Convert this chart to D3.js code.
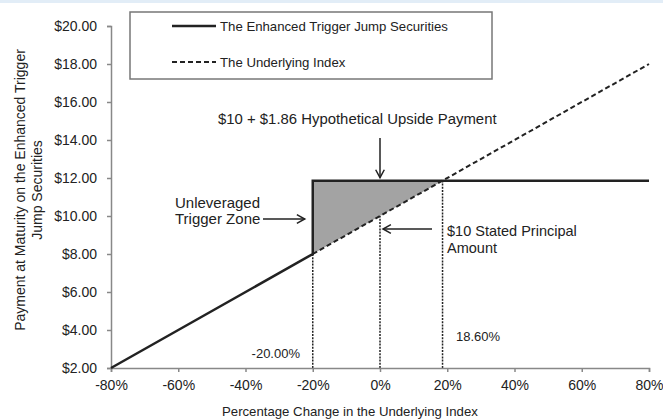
<!DOCTYPE html>
<html>
<head>
<meta charset="utf-8">
<script src="https://cdn.jsdelivr.net/npm/d3@7"></script>
<style>
  body { margin: 0; background: #fff; }
  svg { display: block; font-family: "Liberation Sans", Arial, sans-serif; }
  .axis path, .axis line { stroke: #888; stroke-width: 1.5; }
  .axis text { fill: #222; font-size: 14px; }
</style>
</head>
<body>
<svg id="chart" width="663" height="419"></svg>
<script>
// values
var xTicks = [-80, -60, -40, -20, 0, 20, 40, 60, 80];
var yTicks = [2, 4, 6, 8, 10, 12, 14, 16, 18, 20];
var securityPts = [[-80, 2], [-20, 8], [-20, 11.86], [80, 11.86]];
var underlyingPts = [[-20, 8], [80, 18]];
var shadePts = [[-20, 8], [-20, 11.86], [18.6, 11.86]];
var guideLines = [{x: -20, y: 8}, {x: 0, y: 10}, {x: 18.6, y: 11.86}];
var legendItems = ["The Enhanced Trigger Jump Securities", "The Underlying Index"];

var svg = d3.select("#chart");
var margin = {top: 26, right: 14, bottom: 51, left: 111},
    width = 663 - margin.left - margin.right,
    height = 419 - margin.top - margin.bottom;

svg.append("rect").attr("x", 0).attr("y", 0).attr("width", 663).attr("height", 3).attr("fill", "#e2edf7");

var g = svg.append("g").attr("transform", "translate(" + margin.left + "," + margin.top + ")");

var x = d3.scaleLinear().domain([-80, 80]).range([0, width]);
var y = d3.scaleLinear().domain([2, 20]).range([height, 0]);

var line = d3.line()
    .x(function(d) { return x(d[0]); })
    .y(function(d) { return y(d[1]); });

// shaded upside area
g.append("path")
    .datum(shadePts)
    .attr("d", line.curve(d3.curveLinearClosed))
    .attr("fill", "#a3a3a3");
line.curve(d3.curveLinear);

// dotted guide lines
g.selectAll(".guide")
    .data(guideLines)
  .enter().append("line")
    .attr("class", "guide")
    .attr("x1", function(d) { return x(d.x); })
    .attr("x2", function(d) { return x(d.x); })
    .attr("y1", height)
    .attr("y2", function(d) { return y(d.y); })
    .attr("stroke", "#222")
    .attr("stroke-width", 1.5)
    .attr("stroke-dasharray", "2,1.2");

// axes
g.append("g")
    .attr("class", "axis")
    .attr("transform", "translate(0," + height + ")")
    .call(d3.axisBottom(x).tickValues(xTicks).tickSize(4).tickSizeOuter(4).tickFormat(function(d) { return d + "%"; }))
    .selectAll("text").attr("dy", "1.1em");

g.append("g")
    .attr("class", "axis")
    .call(d3.axisLeft(y).tickValues(yTicks).tickSize(4).tickSizeOuter(4).tickFormat(function(d) { return "$" + d3.format(".2f")(d); }))
    .selectAll("text").attr("dx", "-0.5em");

// underlying index
g.append("path")
    .datum(underlyingPts)
    .attr("d", line)
    .attr("fill", "none")
    .attr("stroke", "#222")
    .attr("stroke-width", 2)
    .attr("stroke-dasharray", "5,3");

// securities payoff
g.append("path")
    .datum(securityPts)
    .attr("d", line)
    .attr("fill", "none")
    .attr("stroke", "#222")
    .attr("stroke-width", 2.5);

// legend
var legend = svg.append("g");
legend.append("rect")
    .attr("x", 130).attr("y", 12).attr("width", 362).attr("height", 67)
    .attr("fill", "#fff").attr("stroke", "#777").attr("stroke-width", 1.5);
legendItems.forEach(function(name, i) {
  var ly = 26 + i * 36;
  legend.append("line")
      .attr("x1", 172).attr("x2", 216).attr("y1", ly).attr("y2", ly)
      .attr("stroke", "#222")
      .attr("stroke-width", i == 0 ? 2.5 : 2)
      .attr("stroke-dasharray", i == 0 ? null : "5,3");
  legend.append("text")
      .attr("x", 220).attr("y", ly).attr("dy", "0.35em")
      .attr("font-size", 13.2).attr("fill", "#222")
      .text(name);
});

// arrow helper
var arrow = function(x1, y1, x2, y2) {
  var a = svg.append("g").attr("stroke", "#222").attr("stroke-width", 1.5).attr("fill", "none");
  a.append("line").attr("x1", x1).attr("y1", y1).attr("x2", x2).attr("y2", y2);
  var ang = Math.atan2(y2 - y1, x2 - x1), h = 9;
  a.append("path").attr("d",
    "M" + (x2 - h * Math.cos(ang - 0.5)) + "," + (y2 - h * Math.sin(ang - 0.5)) +
    "L" + x2 + "," + y2 +
    "L" + (x2 - h * Math.cos(ang + 0.5)) + "," + (y2 - h * Math.sin(ang + 0.5)));
};

var ox = margin.left, oy = margin.top;

// annotations
var label = function(tx, ty, str, size, anchor) {
  svg.append("text").attr("x", tx).attr("y", ty).attr("dy", "0.35em")
     .attr("font-size", size).attr("fill", "#222")
     .attr("text-anchor", anchor || "start")
     .text(str);
};

label(218, 119, "$10 + $1.86 Hypothetical Upside Payment", 14.9);
arrow(ox + x(0), 138, ox + x(0), oy + y(11.86) - 3);

label(175, 203, "Unleveraged", 15);
label(175, 219, "Trigger Zone", 15);
arrow(263, 219, ox + x(-20) - 8, 219);

label(447, 231, "$10 Stated Principal", 14.5);
label(447, 248, "Amount", 14.5);
arrow(432, 229, ox + x(0) + 3, 229);

label(300, 353, "-20.00%", 13, "end");
label(456, 336, "18.60%", 13);

// axis titles
svg.append("text")
    .attr("x", 222).attr("y", 411).attr("dy", "0.35em")
    .attr("font-size", 13.2).attr("fill", "#222")
    .text("Percentage Change in the Underlying Index");

var yt = svg.append("text")
    .attr("transform", "translate(20,190) rotate(-90)")
    .attr("text-anchor", "middle")
    .attr("font-size", 14).attr("fill", "#222");
yt.append("tspan").attr("x", 0).attr("dy", "0.35em").text("Payment at Maturity on the Enhanced Trigger");
yt.append("tspan").attr("x", 0).attr("dy", "1.25em").text("Jump Securities");
</script>
</body>
</html>
